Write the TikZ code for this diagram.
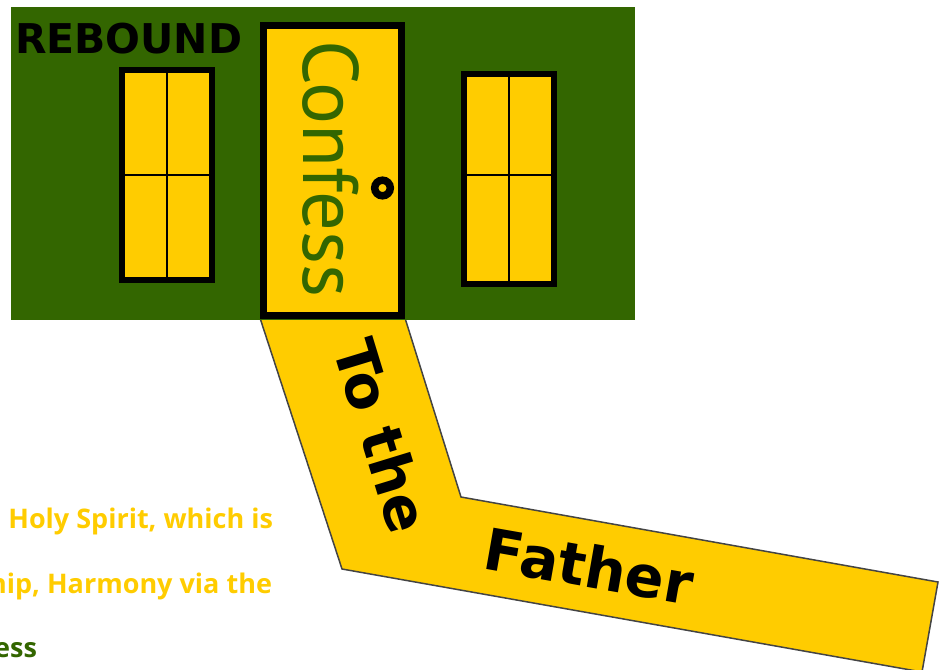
\documentclass[tikz,border=0pt]{standalone}
\usepackage{fontspec}
\setmainfont{DejaVu Sans}
\newfontfamily\dvb{DejaVu Sans}
\newfontfamily\osans{Open Sans}
\newfontfamily\ptsans{PT Sans}
\definecolor{housegreen}{HTML}{336600}
\definecolor{gold}{HTML}{FFCC00}
\definecolor{edgegray}{HTML}{444444}
\tikzset{
  wall/.style={fill=housegreen},
  roadpath/.style={fill=gold, draw=edgegray, line width=1.5pt, line join=miter},
  doorbox/.style={fill=gold, draw=black, line width=7pt},
  winbox/.style={fill=gold, draw=black, line width=6pt},
  mullion/.style={draw=black, line width=2pt},
  knob/.style={fill=gold, draw=black, line width=7.5pt},
  txt/.style={inner sep=0pt, outer sep=0pt},
  bigbold/.style={txt, font=\dvb\bfseries\fontsize{57.5}{60}\selectfont, text=black},
  note/.style={txt, font=\osans\bfseries\fontsize{27}{30}\selectfont, text=gold},
}
\begin{document}
\begin{tikzpicture}[x=1pt,y=-1pt]
\useasboundingbox (0,0) rectangle (939,669);
\clip (0,0) rectangle (939,669);
% path
\coordinate (pA) at (260,318);
\coordinate (pB) at (405,318);
\coordinate (pC) at (461,497);
\coordinate (pD) at (938,582);
\coordinate (pE) at (922,672);
\coordinate (pF) at (342,569);
\path[roadpath] (pA) -- (pB) -- (pC) -- (pD) -- (pE) -- (pF) -- cycle;
% house wall
\path[wall] (11,7) rectangle (635,319.5);
% windows
\path[winbox] (122,70) rectangle (212,280);
\draw[mullion] (167,73) -- (167,277);
\draw[mullion] (125,175) -- (209,175);
\path[winbox] (464,74) rectangle (554,284);
\draw[mullion] (509,77) -- (509,281);
\draw[mullion] (467,175) -- (551,175);
% door
\path[doorbox] (263.5,26) rectangle (401.5,315);
\path[knob] (382.5,188) circle (7.8);
% texts
\node[txt, anchor=base west, font=\dvb\bfseries\fontsize{41}{44}\selectfont] (rebound) at (15,53) {REBOUND};
\node[txt, rotate=-90, anchor=base, text=housegreen] (confess) at (303,169) {\ptsans\fontsize{78.5}{80}\selectfont Confess};
\node[bigbold, rotate=-73] (tothe) at (382,436) {To the};
\node[bigbold, rotate=-10] (father) at (589,566) {Father};
\node[note, anchor=base east] (line1) at (273,528) {Holy Spirit, which is};
\node[note, anchor=base east] (line2) at (272,593) {hip, Harmony via the};
\node[note, anchor=base east, text=housegreen] (line3) at (37,657) {ess};
\end{tikzpicture}
\end{document}
